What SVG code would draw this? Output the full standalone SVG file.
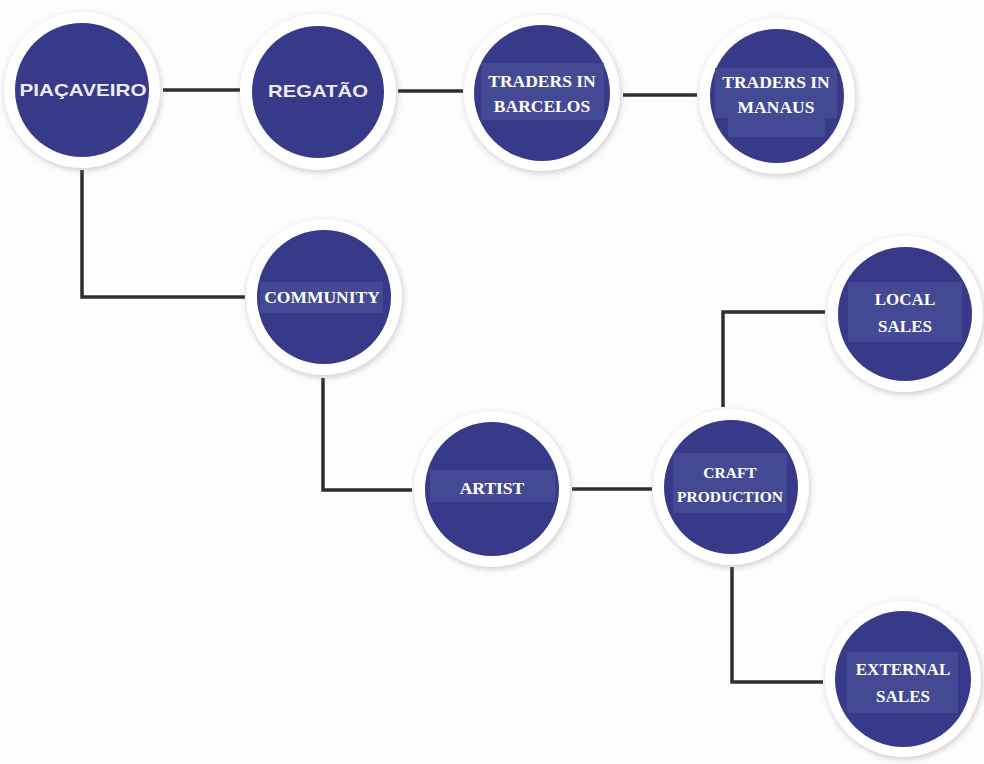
<svg xmlns="http://www.w3.org/2000/svg" width="984" height="764" viewBox="0 0 984 764">
<defs>
<filter id="sh" x="-30%" y="-30%" width="160%" height="160%">
<feDropShadow dx="1" dy="2" stdDeviation="3" flood-color="#8a8a8a" flood-opacity="0.45"/>
</filter>
</defs>
<style>
.ring{fill:#ffffff;filter:url(#sh)}
.disc{fill:#373989}
.box{fill:#434a93}
.conn{fill:none;stroke:#2e2e2e;stroke-width:3.5;stroke-linejoin:miter}
.sans{font-family:"Liberation Sans",Arial,sans-serif;font-weight:bold;font-size:17px;fill:#eceaf2;text-anchor:middle}
.serif{font-family:"Liberation Serif","Times New Roman",serif;font-weight:bold;font-size:17.5px;fill:#ffffff;text-anchor:middle}
.serif16{font-family:"Liberation Serif","Times New Roman",serif;font-weight:bold;font-size:17px;fill:#ffffff;text-anchor:middle}
.serif15{font-family:"Liberation Serif","Times New Roman",serif;font-weight:bold;font-size:15.5px;fill:#ffffff;text-anchor:middle}
</style>
<rect width="984" height="764" fill="#fdfdfd"/>
<g id="connectors">
<path class="conn" d="M163 90 H240"/>
<path class="conn" d="M398 91 H463"/>
<path class="conn" d="M623 95 H697"/>
<path class="conn" d="M82 170 V297 H245"/>
<path class="conn" d="M323 378 V490 H412"/>
<path class="conn" d="M572 489 H652"/>
<path class="conn" d="M723 407 V312 H825"/>
<path class="conn" d="M732 567 V682 H823"/>
</g>
<g id="piacaveiro">
<circle class="ring" cx="82" cy="90" r="78"/>
<circle class="disc" cx="82" cy="90" r="67"/>
<text class="sans" x="83" y="96" textLength="127" lengthAdjust="spacingAndGlyphs">PIAÇAVEIRO</text>
</g>
<g id="regatao">
<circle class="ring" cx="318" cy="92" r="78"/>
<circle class="disc" cx="318" cy="92" r="66"/>
<text class="sans" x="318" y="97" textLength="100" lengthAdjust="spacingAndGlyphs">REGATÃO</text>
</g>
<g id="traders-barcelos">
<circle class="ring" cx="542" cy="93" r="78"/>
<circle class="disc" cx="542" cy="93" r="68"/>
<rect class="box" x="481" y="63" width="123" height="57"/>
<text class="serif" x="542" y="87">TRADERS IN</text>
<text class="serif" x="542" y="112">BARCELOS</text>
</g>
<g id="traders-manaus">
<circle class="ring" cx="777" cy="96" r="78"/>
<circle class="disc" cx="777" cy="96" r="67"/>
<rect class="box" x="715" y="68" width="122" height="50"/>
<rect class="box" x="728" y="118" width="97" height="19"/>
<text class="serif" x="776" y="88">TRADERS IN</text>
<text class="serif" x="776" y="113">MANAUS</text>
</g>
<g id="community">
<circle class="ring" cx="324" cy="297" r="78"/>
<circle class="disc" cx="324" cy="297" r="67"/>
<rect class="box" x="260" y="282" width="123" height="31"/>
<text class="serif" x="322" y="303">COMMUNITY</text>
</g>
<g id="artist">
<circle class="ring" cx="492" cy="489" r="78"/>
<circle class="disc" cx="492" cy="489" r="67"/>
<rect class="box" x="430" y="470" width="125" height="32"/>
<text class="serif" x="492" y="494">ARTIST</text>
</g>
<g id="craft-production">
<circle class="ring" cx="731" cy="487" r="78"/>
<circle class="disc" cx="731" cy="487" r="67"/>
<rect class="box" x="673" y="453" width="114" height="60"/>
<text class="serif15" x="730" y="478">CRAFT</text>
<text class="serif15" x="730" y="502">PRODUCTION</text>
</g>
<g id="local-sales">
<circle class="ring" cx="905" cy="314" r="78"/>
<circle class="disc" cx="905" cy="314" r="67"/>
<rect class="box" x="848" y="282" width="114" height="60"/>
<text class="serif16" x="905" y="305">LOCAL</text>
<text class="serif16" x="905" y="332">SALES</text>
</g>
<g id="external-sales">
<circle class="ring" cx="903" cy="679" r="78"/>
<circle class="disc" cx="903" cy="679" r="68"/>
<rect class="box" x="847" y="652" width="111" height="61"/>
<text class="serif16" x="903" y="675">EXTERNAL</text>
<text class="serif16" x="903" y="702">SALES</text>
</g>
</svg>
